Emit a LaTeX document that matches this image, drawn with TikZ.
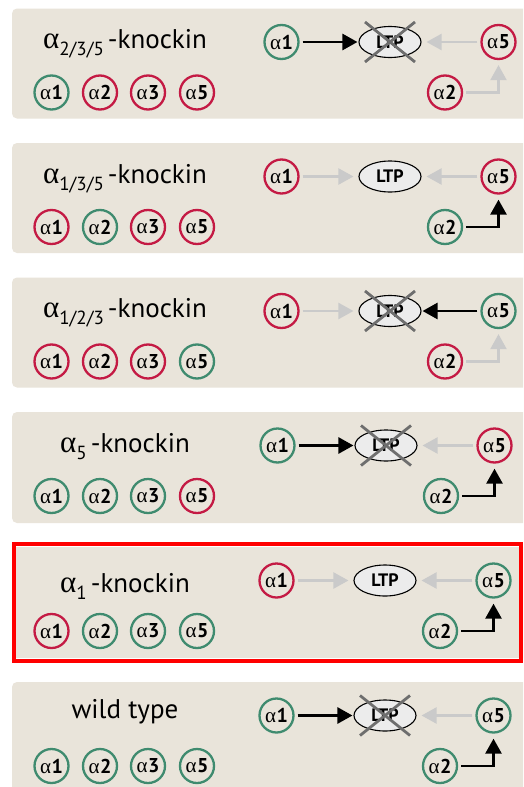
\documentclass[tikz,border=0pt]{standalone}
\usepackage{fontspec}
\setmainfont{PT Sans}
\newfontfamily\grk{Liberation Serif}
\usetikzlibrary{arrows.meta,shapes.geometric}
\definecolor{bg}{HTML}{E9E4DA}
\definecolor{gn}{HTML}{3F8B6F}
\definecolor{rd}{HTML}{C41A44}
\definecolor{lg}{HTML}{CACACA}
\definecolor{cx}{HTML}{6E6E6E}
\definecolor{ltpfill}{HTML}{ECECEC}
\definecolor{frm}{HTML}{FF0000}
\tikzset{
 sm/.style={circle, line width=2.3pt, minimum size=34pt, inner sep=0pt, font=\fontsize{20}{20}\selectfont},
 ltpn/.style={ellipse, draw=black, line width=1.1pt, fill=ltpfill, minimum width=62pt, minimum height=31pt, inner sep=0pt, font=\fontsize{18}{18}\selectfont\bfseries},
 blk/.style={draw=black, line width=2.6pt, -{Triangle[length=15pt,width=16pt]}, shorten >=1pt, shorten <=3pt},
 gry/.style={draw=lg, line width=2.2pt, -{Triangle[length=15pt,width=16pt]}, shorten >=5pt, shorten <=3pt},
 pnl/.style={fill=bg, rounded corners=5pt},
 ttl/.style={anchor=base, font=\fontsize{27}{27}\selectfont, inner sep=0pt},
 crs/.style={draw=cx, line width=2.8pt},
}
\newcommand\al[1]{{\grk\fontsize{21}{21}\selectfont α}\kern0.5pt\textbf{#1}}
\newcommand\ga{{\grk\fontsize{31}{31}\selectfont α}}
\newcommand\sbs[1]{\raisebox{-7pt}{\fontsize{19}{19}\selectfont #1}\hspace{4pt}}
\newcommand\leftpart[7]{%
  \node[ttl] (#1t) at (125,#7) {#2};
  \node[sm,draw=#3] (#1c1) at (51.5,84) {\al1};
  \node[sm,draw=#4] (#1c2) at (100,84) {\al2};
  \node[sm,draw=#5] (#1c3) at (148,84) {\al3};
  \node[sm,draw=#6] (#1c5) at (197,84) {\al5};
}
\newcommand\rightpart[9]{%
 \begin{scope}[shift={(#2,0)}]
  \node[sm,draw=#3] (#1a1) at (281.5,33.5) {\al1};
  \node[ltpn] (#1L) at (390,33.5) {LTP};
  \node[sm,draw=#4] (#1a5) at (498.5,33.5) {\al5};
  \node[sm,draw=#5] (#1a2) at (445,84) {\al2};
  \draw[#6] (#1a1) -- (#1L);
  \draw[#7] (#1a5) -- (#1L);
  \draw[#8, shorten >=5pt] (#1a2.east) -- (#1a2.east -| #1a5) -- (#1a5.south);
  \ifnum#9=1
   \draw[crs] ([shift={(-25,-20)}]#1L.center) -- ([shift={(25,20)}]#1L.center);
   \draw[crs] ([shift={(25,-20)}]#1L.center) -- ([shift={(-25,20)}]#1L.center);
  \fi
 \end{scope}
}
\begin{document}
\begin{tikzpicture}[x=1pt,y=-1pt]
\useasboundingbox (0,0) rectangle (523,787);
\clip (0,0) rectangle (523,787);
\fill[white] (0,0) rectangle (523,787);
% panel 1
\begin{scope}[shift={(0,8.5)}]
 \fill[pnl] (12,0) rectangle (545,110);
 \leftpart{p1}{\ga\sbs{2/3/5}-knockin}{gn}{rd}{rd}{rd}{40}
 \rightpart{p1}{0}{gn}{rd}{rd}{blk}{gry}{gry}{1}
\end{scope}
% panel 2
\begin{scope}[shift={(0,143)}]
 \fill[pnl] (12,0) rectangle (545,110);
 \leftpart{p2}{\ga\sbs{1/3/5}-knockin}{rd}{gn}{rd}{rd}{40}
 \rightpart{p2}{0}{rd}{rd}{gn}{gry}{gry}{blk}{0}
\end{scope}
% panel 3
\begin{scope}[shift={(0,277.5)}]
 \fill[pnl] (12,0) rectangle (545,110);
 \leftpart{p3}{\ga\sbs{1/2/3}-knockin}{rd}{rd}{rd}{gn}{40}
 \rightpart{p3}{0}{rd}{gn}{rd}{gry}{blk}{gry}{1}
\end{scope}
% panel 4
\begin{scope}[shift={(0,412)}]
 \fill[pnl] (12,0) rectangle (545,111);
 \leftpart{p4}{\ga\sbs{5}-knockin}{gn}{gn}{gn}{rd}{40}
 \rightpart{p4}{-4}{gn}{rd}{gn}{blk}{gry}{blk}{1}
\end{scope}
% panel 5
\begin{scope}[shift={(0,547)}]
 \fill[bg] (12,0) rectangle (545,111);
 \leftpart{p5}{\ga\sbs{1}-knockin}{rd}{gn}{gn}{gn}{45}
 \rightpart{p5}{-5}{rd}{gn}{gn}{gry}{gry}{blk}{0}
\end{scope}
\draw[frm, line width=4pt] (13.7,544) rectangle (521,661);
% panel 6
\begin{scope}[shift={(0,682)}]
 \fill[pnl] (12,0) rectangle (545,140);
 \leftpart{p6}{wild type}{gn}{gn}{gn}{gn}{36}
 \rightpart{p6}{-5}{gn}{gn}{gn}{blk}{gry}{blk}{1}
\end{scope}
\end{tikzpicture}
\end{document}
